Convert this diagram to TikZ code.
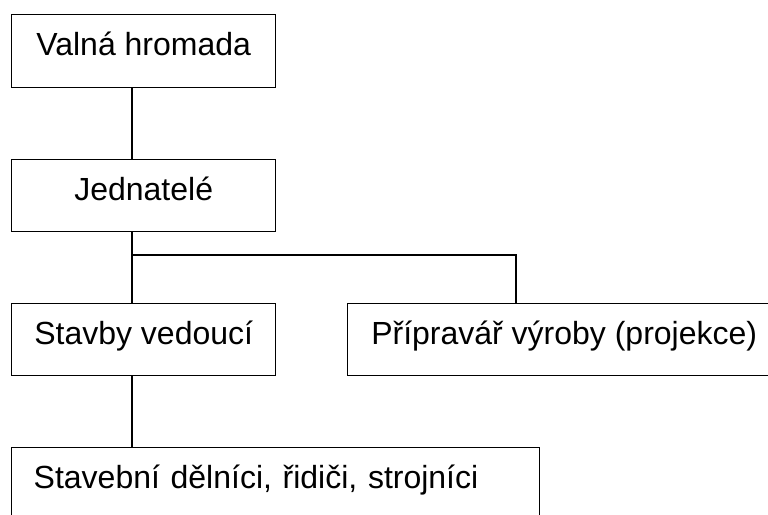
\documentclass[tikz,border=0pt]{standalone}
\usepackage{fontspec}
\setmainfont{Liberation Sans}
\tikzset{
  orgbox/.style={draw, line width=1.4pt, inner sep=0pt, text height=41pt, text depth=32pt,
    font=\fontsize{32}{38}\selectfont, anchor=north west},
  link/.style={line width=1.4pt}
}
\begin{document}
\begin{tikzpicture}[x=1pt,y=-1pt]
\useasboundingbox (0,0) rectangle (768,514);
\clip (0,0) rectangle (768,514);
\fill[white] (0,0) rectangle (768,514);
\node[orgbox, minimum width=264pt] (A) at (11,14) {Valná hromada};
\node[orgbox, minimum width=264pt, text depth=31pt] (B) at (11,159) {Jednatelé};
\node[orgbox, minimum width=264pt, text depth=31pt] (C) at (11,303) {Stavby vedoucí};
\node[orgbox, minimum width=433pt, text depth=31pt] (D) at (347,303) {Přípravář výroby (projekce)};
\node[orgbox, text width=484pt, inner xsep=22pt, align=left, text depth=34pt] (E) at (11,447) {Stavební dělníci, řidiči, strojníci};
\coordinate (xl) at (132,0);
\coordinate (xr) at (516,0);
\coordinate (bus) at (0,255);
\draw[link] (A.south -| xl) -- (B.north -| xl);
\draw[link] (B.south -| xl) -- (C.north -| xl);
\draw[link] (bus -| xl) -| (D.north -| xr);
\draw[link] (C.south -| xl) -- (E.north -| xl);
\end{tikzpicture}
\end{document}
